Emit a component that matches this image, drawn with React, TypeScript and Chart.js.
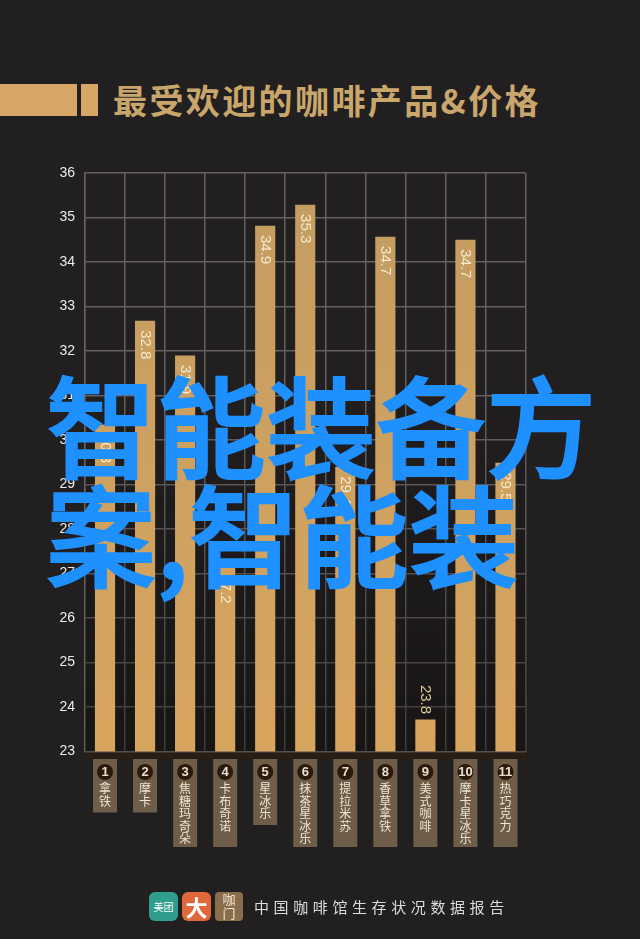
import { useEffect, useRef } from "react";
import { Chart, registerables } from "chart.js";

Chart.register(...registerables);

const categories = [
  "拿铁",
  "摩卡",
  "焦糖玛奇朵",
  "卡布奇诺",
  "星冰乐",
  "抹茶星冰乐",
  "提拉米苏",
  "香草拿铁",
  "美式咖啡",
  "摩卡星冰乐",
  "热巧克力",
];
// bar heights as they sit against the axis in the picture
const barValues = [30.34, 32.67, 31.89, 27.18, 34.81, 35.28, 29.39, 34.56, 23.71, 34.49, 29.48];
// numbers printed on the bars, they differ slightly from the heights
const printedValues = ["30.3", "32.8", "31.9", "27.2", "34.9", "35.3", "29.4", "34.7", "23.8", "34.7", "29.5"];

const title = "最受欢迎的咖啡产品&价格";
const footer = "中国咖啡馆生存状况数据报告";
const overlay = "智能装备方案,智能装";

const CJK = "'Noto Sans CJK SC', sans-serif";
const LATIN = "'Liberation Sans', Arial, sans-serif";

// number badges and brown tags under the axis
const tagsPlugin = {
  id: "tags",
  beforeDraw(chart: any) {
    const { ctx, scales } = chart;
    categories.forEach((name, i) => {
      const x = scales.x.getPixelForTick(i);
      const n = name.length;
      const bottom = n >= 4 ? 847 : 789 + (n - 1) * 12.5 + 11;
      ctx.save();
      ctx.fillStyle = "#6e5d48";
      ctx.fillRect(x - 12, 759, 24, bottom - 759);
      ctx.fillStyle = "#2a1a0e";
      ctx.beginPath();
      ctx.arc(x, 772, 8, 0, Math.PI * 2);
      ctx.fill();
      ctx.fillStyle = "#e9dfcc";
      ctx.font = `bold 13px ${LATIN}`;
      ctx.textAlign = "center";
      ctx.textBaseline = "middle";
      ctx.fillText(String(i + 1), x, 772.5);
      ctx.restore();
    });
  },
  // darkens the lower part of the plot, grid included
  beforeDatasetsDraw(chart: any) {
    const { ctx, chartArea: a } = chart;
    const g = ctx.createLinearGradient(0, 380, 0, a.bottom);
    g.addColorStop(0, "rgba(10,8,6,0)");
    g.addColorStop(1, "rgba(10,8,6,0.42)");
    ctx.save();
    ctx.fillStyle = g;
    ctx.fillRect(a.left, 380, a.right - a.left + 1, a.bottom - 380);
    ctx.fillStyle = "#2a1d13";
    ctx.fillRect(a.left - 2, a.bottom + 1, a.right - a.left + 4, 6);
    ctx.restore();
  },
};

// rotated value labels on the bars
const valueLabels = {
  id: "valueLabels",
  afterDatasetsDraw(chart: any) {
    const { ctx, chartArea } = chart;
    chart.getDatasetMeta(0).data.forEach((bar: any, i: number) => {
      const tooShort = chartArea.bottom - bar.y < 40;
      ctx.save();
      ctx.translate(bar.x, tooShort ? bar.y - 35 : bar.y + 9);
      ctx.rotate(Math.PI / 2);
      ctx.font = `15px ${LATIN}`;
      ctx.fillStyle = tooShort ? "#d8c699" : "#f6e8cb";
      ctx.textAlign = "left";
      ctx.textBaseline = "middle";
      ctx.fillText(printedValues[i], 0, 0);
      ctx.restore();
    });
  },
};

export default function App() {
  const chartRef = useRef<HTMLCanvasElement>(null);

  useEffect(() => {
    if (!chartRef.current) return;

    const chart = new Chart(chartRef.current, {
      type: "bar",
      data: {
        labels: categories.map((c) => c.split("")),
        datasets: [
          {
            data: barValues,
            backgroundColor: (c: any) => {
              const area = c.chart.chartArea;
              if (!area) return "#cb9d5c";
              const g = c.chart.ctx.createLinearGradient(0, area.top, 0, area.bottom);
              g.addColorStop(0, "#c39d62");
              g.addColorStop(1, "#d8a55e");
              return g;
            },
            barThickness: 19.5,
          },
        ],
      },
      options: {
        responsive: false,
        animation: false,
        layout: { padding: { top: 173, right: 114.5, left: 0, bottom: 0 } },
        plugins: {
          legend: { display: false },
          tooltip: { enabled: false },
        },
        scales: {
          x: {
            afterFit: (s: any) => {
              s.height = 187.5;
            },
            grid: { color: "#656160", lineWidth: 1.5, drawTicks: false },
            border: { color: "#656160", width: 1.5 },
            ticks: {
              autoSkip: false,
              maxRotation: 0,
              padding: 31,
              color: "#eee5d4",
              font: { family: CJK, size: 12, lineHeight: "12.5px" },
            },
          },
          y: {
            min: 23,
            max: 36,
            afterFit: (s: any) => {
              s.width = 85;
            },
            grid: { color: "#656160", lineWidth: 1.5, drawTicks: false },
            border: { color: "#656160", width: 1.5 },
            ticks: {
              stepSize: 1,
              padding: 10,
              color: "#ebebeb",
              font: { family: LATIN, size: 14 },
            },
          },
        },
      },
      plugins: [tagsPlugin, valueLabels],
    } as any);

    return () => {
      chart.destroy();
    };
  }, []);

  return (
    <div
      style={{
        position: "absolute",
        left: 0,
        top: 0,
        width: 640,
        height: 939,
        overflow: "hidden",
        background: "#221f20",
      }}
    >
      <div style={{ position: "absolute", left: 0, top: 84, width: 77, height: 32, background: "#d6a766" }} />
      <div style={{ position: "absolute", left: 81, top: 84, width: 17, height: 32, background: "#d6a766" }} />
      <div
        style={{
          position: "absolute",
          left: 113,
          top: 76,
          fontFamily: CJK,
          fontSize: 34,
          lineHeight: "48px",
          fontWeight: 700,
          letterSpacing: 2.4,
          color: "#c9a66c",
          whiteSpace: "nowrap",
        }}
      >
        {title}
      </div>

      <canvas ref={chartRef} width={640} height={939} style={{ position: "absolute", left: 0, top: 0 }} />

      <div style={{ position: "absolute", left: 149, top: 892, width: 29, height: 29, borderRadius: 6, background: "#2f9e8e", color: "#fff", fontFamily: CJK, fontSize: 10, lineHeight: "29px", textAlign: "center" }}>
        美团
      </div>
      <div style={{ position: "absolute", left: 182, top: 892, width: 29, height: 29, borderRadius: 6, background: "#e0683a", color: "#fff", fontFamily: CJK, fontSize: 22, fontWeight: 700, lineHeight: "29px", textAlign: "center" }}>
        大
      </div>
      <div style={{ position: "absolute", left: 215, top: 892, width: 28, height: 29, borderRadius: 4, background: "#8a6d4b", color: "#f1e6d3", fontFamily: CJK, fontSize: 13, lineHeight: "14px", textAlign: "center" }}>
        咖<br />门
      </div>
      <div
        style={{
          position: "absolute",
          left: 254,
          top: 896,
          fontFamily: CJK,
          fontSize: 15,
          lineHeight: "22px",
          letterSpacing: 4.6,
          color: "#dcdcdc",
          whiteSpace: "nowrap",
        }}
      >
        {footer}
      </div>

      <div
        style={{
          position: "absolute",
          left: 46,
          top: 368,
          width: 560,
          fontFamily: CJK,
          fontSize: 110,
          lineHeight: "109px",
          fontWeight: 500,
          WebkitTextStroke: "2px #1e90ff",
          color: "#1e90ff",
        }}
      >
        {overlay}
      </div>
    </div>
  );
}
